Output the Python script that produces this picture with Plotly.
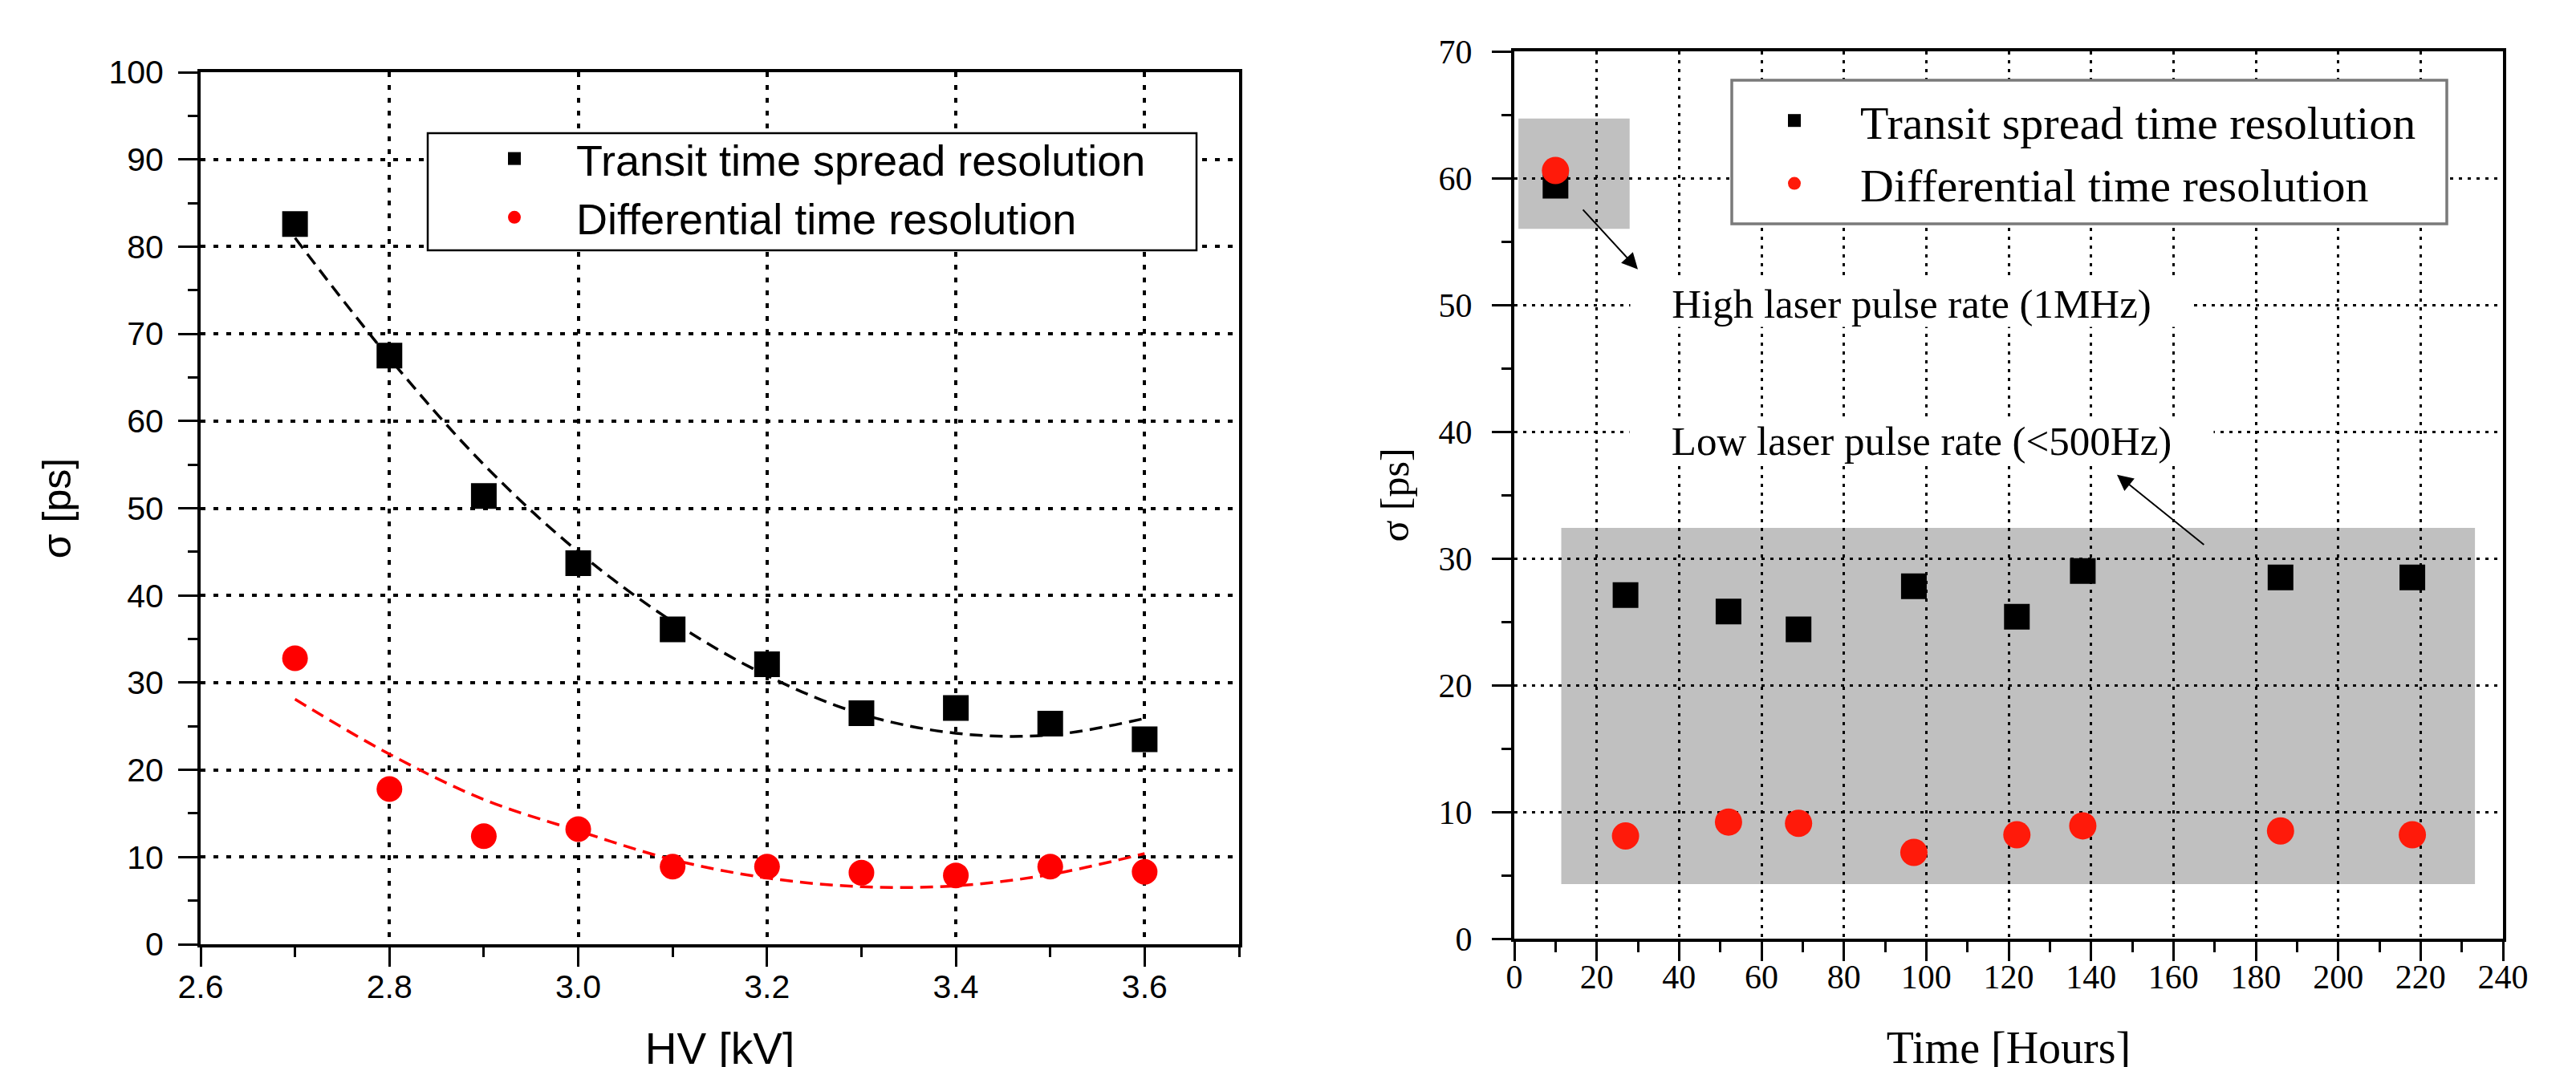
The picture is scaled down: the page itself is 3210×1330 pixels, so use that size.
import plotly.graph_objects as go

W, H = 3210, 1330

# ---------------- data: left panel ----------------
hv_kv = [2.7, 2.8, 2.9, 3.0, 3.1, 3.2, 3.3, 3.4, 3.5, 3.6]
tts_res = [82.6, 67.5, 51.4, 43.7, 36.1, 32.1, 26.5, 27.1, 25.3, 23.5]
diff_res = [32.8, 17.8, 12.4, 13.2, 8.9, 8.9, 8.2, 7.9, 8.9, 8.3]
tts_fit = [81.0, 67.2, 55.0, 45.0, 37.0, 30.8, 26.4, 24.2, 24.0, 25.9]
diff_fit = [28.1, 21.8, 16.6, 13.0, 9.7, 7.6, 6.6, 6.7, 8.0, 10.4]

# ---------------- data: right panel ----------------
hours = [10, 27, 52, 69, 97, 122, 138, 186, 218]
tts_time = [59.4, 27.1, 25.8, 24.4, 27.8, 25.4, 29.0, 28.5, 28.5]
diff_time = [60.6, 8.1, 9.2, 9.1, 6.8, 8.2, 8.9, 8.5, 8.2]

# shaded regions (data coords): x0, x1, y0, y1
high_rate_box = [1, 28, 56.0, 64.7]
low_rate_box = [11.4, 233.2, 4.3, 32.4]

SANS = "Liberation Sans, Arial, sans-serif"
SERIF = "Liberation Serif, Times New Roman, serif"
RED_L = "#ff0000"
RED_R = "#ff1a0a"

fig = go.Figure()

# left panel traces
fig.add_trace(go.Scatter(x=hv_kv, y=tts_fit, mode="lines", line=dict(color="black", width=3.5, dash="16px,9px", shape="spline"),
                         showlegend=False, xaxis="x", yaxis="y", hoverinfo="skip"))
fig.add_trace(go.Scatter(x=hv_kv, y=diff_fit, mode="lines", line=dict(color=RED_L, width=3.5, dash="16px,9px", shape="spline"),
                         showlegend=False, xaxis="x", yaxis="y", hoverinfo="skip"))
fig.add_trace(go.Scatter(x=hv_kv, y=tts_res, mode="markers", name="Transit time spread resolution",
                         marker=dict(symbol="square", size=32, color="black", line=dict(width=0)),
                         xaxis="x", yaxis="y", legend="legend"))
fig.add_trace(go.Scatter(x=hv_kv, y=diff_res, mode="markers", name="Differential time resolution",
                         marker=dict(symbol="circle", size=32, color=RED_L, line=dict(width=0)),
                         xaxis="x", yaxis="y", legend="legend"))

# right panel traces
fig.add_trace(go.Scatter(x=hours, y=tts_time, mode="markers", name="Transit spread time resolution",
                         marker=dict(symbol="square", size=32, color="black", line=dict(width=0)),
                         xaxis="x2", yaxis="y2", legend="legend2"))
fig.add_trace(go.Scatter(x=hours, y=diff_time, mode="markers", name="Differential time resolution",
                         marker=dict(symbol="circle", size=34, color=RED_R, line=dict(width=0)),
                         xaxis="x2", yaxis="y2", legend="legend2"))

def px_x(p):
    return p / W

def px_y(p):
    return 1 - p / H

common_axis = dict(showline=True, linewidth=4, linecolor="black", mirror=True, ticks="outside",
                   tickwidth=3, tickcolor="black", ticklen=24, showgrid=True, gridcolor="black",
                   zeroline=False, automargin=False)

fig.update_layout(
    width=W, height=H,
    margin=dict(l=0, r=0, t=0, b=0),
    paper_bgcolor="white", plot_bgcolor="white",
    xaxis=dict(**common_axis, domain=[px_x(242), px_x(1536)], range=[2.6, 3.7], tick0=2.6, dtick=0.2,
               tickformat=".1f", anchor="y", gridwidth=3.5, griddash="6px,10px", ticklabelstandoff=-10,
               minor=dict(dtick=0.1, tick0=2.6, ticks="outside", ticklen=12, tickwidth=3, tickcolor="black", showgrid=False),
               tickfont=dict(family=SANS, size=41, color="black"),
               title=dict(text="HV [kV]", font=dict(family=SANS, size=55, color="black"), standoff=40)),
    yaxis=dict(**common_axis, domain=[px_y(1169), px_y(82)], range=[0, 100], dtick=10, anchor="x",
               gridwidth=3.5, griddash="6px,10px", ticklabelstandoff=10,
               minor=dict(dtick=5, ticks="outside", ticklen=12, tickwidth=3, tickcolor="black", showgrid=False),
               tickfont=dict(family=SANS, size=41, color="black"),
               title=dict(text="σ [ps]", font=dict(family=SANS, size=50, color="black"), standoff=32)),
    xaxis2=dict(**common_axis, domain=[px_x(1879), px_x(3111)], range=[0, 240], dtick=20, anchor="y2",
                gridwidth=3, griddash="4px,7px", ticklabelstandoff=-16,
                minor=dict(dtick=10, ticks="outside", ticklen=13, tickwidth=3, tickcolor="black", showgrid=False),
                tickfont=dict(family=SERIF, size=42, color="black"),
                title=dict(text="Time [Hours]", font=dict(family=SERIF, size=56, color="black"), standoff=46)),
    yaxis2=dict(**common_axis, domain=[px_y(1162), px_y(56)], range=[0, 70], dtick=10, anchor="x2",
                gridwidth=3, griddash="4px,7px", ticklabelstandoff=16,
                minor=dict(dtick=5, ticks="outside", ticklen=12, tickwidth=3, tickcolor="black", showgrid=False),
                tickfont=dict(family=SERIF, size=42, color="black"),
                title=dict(text="σ [ps]", font=dict(family=SERIF, size=50, color="black"), standoff=22)),
    legend=dict(x=px_x(556), y=px_y(148), xanchor="left", yanchor="top", bgcolor="rgba(0,0,0,0)",
                borderwidth=0, itemwidth=144, font=dict(family=SANS, size=54, color="black")),
    legend2=dict(x=px_x(2146), y=px_y(98), xanchor="left", yanchor="top", bgcolor="rgba(0,0,0,0)",
                 borderwidth=0, itemwidth=154, font=dict(family=SERIF, size=58, color="black")),
)

# shaded regions under the grid (right panel)
for bx in (high_rate_box, low_rate_box):
    fig.add_shape(type="rect", xref="x2", yref="y2", x0=bx[0], x1=bx[1], y0=bx[2], y1=bx[3],
                  fillcolor="#c0c0c0", line=dict(width=0), layer="below")

# legend frames
fig.add_shape(type="rect", xref="paper", yref="paper", x0=px_x(525), x1=px_x(1483), y0=px_y(304), y1=px_y(158),
              fillcolor="white", line=dict(color="black", width=2.5), layer="above")
fig.add_shape(type="rect", xref="paper", yref="paper", x0=px_x(2150), x1=px_x(3041), y0=px_y(271), y1=px_y(92),
              fillcolor="white", line=dict(color="#7a7a7a", width=3.5), layer="above")

# annotations on the right panel
fig.add_annotation(x=96.4, y=50.1, xref="x2", yref="y2", text="High laser pulse rate (1MHz)", showarrow=False,
                   font=dict(family=SERIF, size=51, color="black"), bgcolor="white", width=700, height=57, borderpad=0)
fig.add_annotation(x=98.8, y=39.3, xref="x2", yref="y2", text="Low laser pulse rate (&lt;500Hz)", showarrow=False,
                   font=dict(family=SERIF, size=51, color="black"), bgcolor="white", width=727, height=57, borderpad=0)
fig.add_annotation(x=30.0, y=52.8, ax=16.4, ay=57.6, xref="x2", yref="y2", axref="x2", ayref="y2", text="",
                   showarrow=True, arrowhead=2, arrowsize=2, arrowwidth=2, arrowcolor="black")
fig.add_annotation(x=146.3, y=36.6, ax=167.7, ay=31.0, xref="x2", yref="y2", axref="x2", ayref="y2", text="",
                   showarrow=True, arrowhead=2, arrowsize=2, arrowwidth=2, arrowcolor="black")

fig.write_html("out.html")
